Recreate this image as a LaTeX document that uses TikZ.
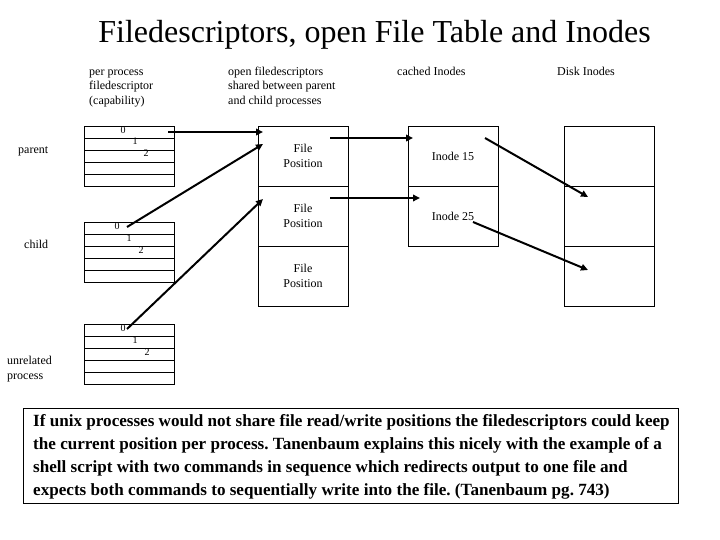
\documentclass[tikz,border=0pt]{standalone}
\usepackage{fontspec}
\setmainfont{Liberation Serif}
\usetikzlibrary{calc,arrows.meta,positioning}
\tikzset{
  ar/.style={-{Triangle[length=7pt,width=6.5pt]},line width=2pt},
  cell/.style={draw,line width=0.8pt,minimum width=90pt,minimum height=60pt,inner sep=0pt,outer sep=0pt,align=center,font=\fontsize{12}{14.7}\selectfont},
  lbl/.style={font=\fontsize{12}{14.5}\selectfont,align=left,inner sep=0pt},
  dig/.style={font=\fontsize{10}{10}\selectfont,inner sep=0pt},
  fdrow/.style={line width=0.8pt}
}
\frenchspacing
\begin{document}
\begin{tikzpicture}[x=1pt,y=-1pt]
\useasboundingbox (0,0) rectangle (720,540);
\node[font=\fontsize{32}{36}\selectfont,inner sep=0pt] (title) at (374.5,35) {Filedescriptors, open File Table and Inodes};
% column headers
\node[lbl,anchor=west] (hfd) at (89,88) {per process\\filedescriptor\\(capability)};
\node[lbl,anchor=west] (hof) at (228,86.8) {open filedescriptors\\shared between parent\\and child processes};
\node[lbl,anchor=base west] (hci) at (397,76) {cached Inodes};
\node[lbl,anchor=base west] (hdi) at (557,76) {Disk Inodes};
% process labels
\node[lbl,anchor=base west] (parent) at (18,154) {parent};
\node[lbl,anchor=base west] (child) at (24,248) {child};
\node[lbl,anchor=west] (unrel) at (7,369) {unrelated\\process};
% per process fd tables
\foreach \y in {126,222,324} {
  \draw[fdrow] (84,\y) rectangle (174,\y+60);
  \foreach \r in {1,...,4} \draw[fdrow] (84,\y+12*\r) -- (174,\y+12*\r);
}
\node[dig] (p0) at (123,130) {0};
\node[dig] (p1) at (135,141) {1};
\node[dig] (p2) at (146,153) {2};
\node[dig] (c0) at (117,226) {0};
\node[dig] (c1) at (129,238) {1};
\node[dig] (c2) at (141,250) {2};
\node[dig] (u0) at (123,328) {0};
\node[dig] (u1) at (135,340) {1};
\node[dig] (u2) at (147,352) {2};
% open file table
\node[cell] (f1) at (303,156) {File\\Position};
\node[cell,below=0pt of f1] (f2) {File\\Position};
\node[cell,below=0pt of f2] (f3) {File\\Position};
% cached inodes
\node[cell] (i1) at (453,156) {Inode 15};
\node[cell,below=0pt of i1] (i2) {Inode 25};
% disk inodes
\node[cell] (d1) at (609,156) {};
\node[cell,below=0pt of d1] (d2) {};
\node[cell,below=0pt of d2] (d3) {};
% arrows
\coordinate (pfd0) at (168,132);
\coordinate (cfd0) at (127,227);
\coordinate (ufd0) at (127,329);
\draw[ar] (pfd0) -- ($(f1.north west)+(5,6)$);
\draw[ar] (cfd0) -- ($(f1.north west)+(5,18)$);
\draw[ar] (ufd0) -- ($(f2.north west)+(5,13)$);
\draw[ar] ($(f1.north east)+(-18,12)$) -- ($(i1.north west)+(5,12)$);
\draw[ar] ($(f2.north east)+(-18,12)$) -- ($(i2.north west)+(12,12)$);
\draw[ar] ($(i1.north east)+(-13,12)$) -- ($(d2.north west)+(24,11)$);
\draw[ar] ($(i2.north east)+(-25,36)$) -- ($(d3.north west)+(24,24)$);
% note
\draw[line width=1pt] (23,408) rectangle (678,503);
\node[anchor=west,inner sep=0pt,align=left,font=\fontsize{17.1}{23}\selectfont\bfseries] (note) at (33,457)
  {If unix processes would not share file read/write positions the filedescriptors could keep\\
   the current position per process. Tanenbaum explains this nicely with the example of a\\
   shell script with two commands in sequence which redirects output to one file and\\
   expects both commands to sequentially write into the file. (Tanenbaum pg. 743)};
\end{tikzpicture}
\end{document}
